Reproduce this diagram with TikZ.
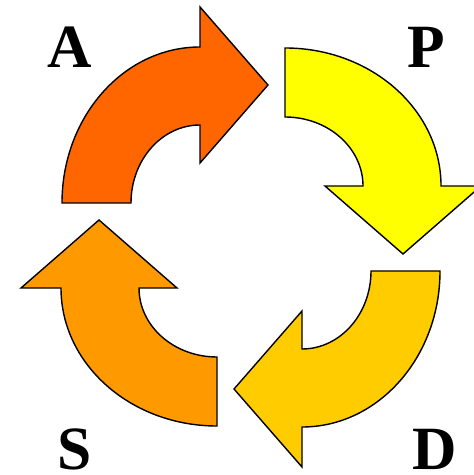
\documentclass[tikz,border=0pt]{standalone}
\usepackage{fontspec}
\setmainfont{Liberation Serif}
\usepackage{tikz}
\usetikzlibrary{calc}
\definecolor{actorange}{RGB}{255,102,0}
\definecolor{planyellow}{RGB}{255,255,0}
\definecolor{dogold}{RGB}{255,204,0}
\definecolor{studyorange}{RGB}{255,153,0}
\newcommand{\bentarrow}{(-138,0) arc[start angle=180, end angle=90, x radius=138, y radius=156]
  -- (0,196) -- (68,118) -- (0,40) -- (0,78)
  arc[start angle=90, end angle=180, x radius=69, y radius=78] -- cycle}

\begin{document}
\begin{tikzpicture}[x=0.02cm, y=0.02cm,
    arrowbody/.style={draw=black, line width=0.8pt},
    phase/.style={font=\fontsize{35}{35}\selectfont\bfseries, inner sep=0pt}]
    \useasboundingbox (0,0) rectangle (473,-475);
    \draw [arrowbody, fill=actorange, shift={(200,-203)}] \bentarrow;
    \draw [arrowbody, fill=planyellow, shift={(285,-186)}, rotate=-90] \bentarrow;
    \draw [arrowbody, fill=dogold, shift={(302,-271)}, rotate=-180] \bentarrow;
    \draw [arrowbody, fill=studyorange, shift={(217,-288)}, rotate=-270] \bentarrow;
    \node [phase] (A) at (70,-47) {A};
    \node [phase] (P) at (426,-47) {P};
    \node [phase] (D) at (435,-449) {D};
    \node [phase] (S) at (75,-449) {S};
  \end{tikzpicture}
\end{document}
